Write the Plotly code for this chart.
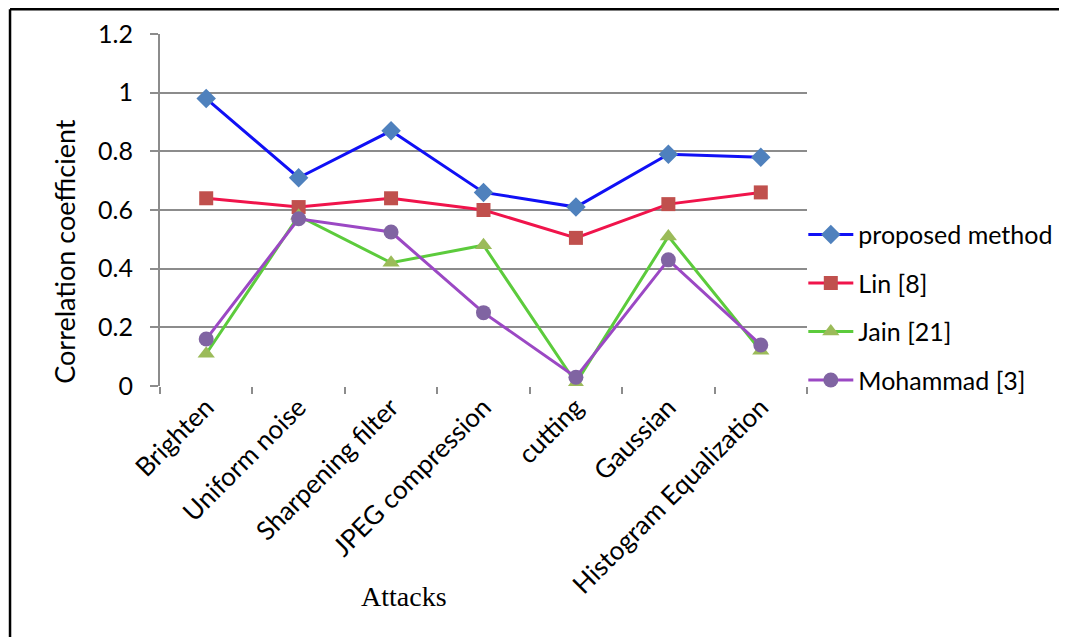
import plotly.graph_objects as go

attacks = ["Brighten", "Uniform noise", "Sharpening filter", "JPEG compression",
           "cutting", "Gaussian", "Histogram Equalization"]

proposed = [0.98, 0.71, 0.87, 0.66, 0.61, 0.79, 0.78]
lin = [0.64, 0.61, 0.64, 0.60, 0.505, 0.62, 0.66]
jain = [0.11, 0.58, 0.42, 0.48, 0.01, 0.51, 0.12]
mohammad = [0.16, 0.57, 0.525, 0.25, 0.03, 0.43, 0.14]

y_ticks = [0, 0.2, 0.4, 0.6, 0.8, 1, 1.2]
y_labels = ["0", "0.2", "0.4", "0.6", "0.8", "1", "1.2"]

series = [
    ("proposed method", proposed, "#1010F5", "#4F81BD", "diamond", 15),
    ("Lin [8]", lin, "#F0144B", "#C0504D", "square", 14),
    ("Jain [21]", jain, "#5CCB3C", "#9BBB59", "triangle-up", 15),
    ("Mohammad [3]", mohammad, "#9B48C4", "#8064A2", "circle", 15),
]

fig = go.Figure()
for i, (name, vals, lcol, mcol, sym, sz) in enumerate(series):
    fig.add_trace(
        go.Scatter(
            x=attacks,
            y=vals,
            name=name,
            mode="lines+markers",
            line=dict(color=lcol, width=3),
            marker=dict(symbol=sym, size=sz, color=mcol, line=dict(width=0)),
            legendgroup="g%d" % i,
        )
    )

font_main = "Lato, sans-serif"

# page body has an 8px margin, so the figure is a bit smaller than the window
fig.update_layout(
    width=1059,
    height=629,
    margin=dict(l=152, r=260, t=26, b=251, autoexpand=False),
    paper_bgcolor="white",
    plot_bgcolor="white",
    font=dict(family=font_main, size=24, color="black"),
    showlegend=True,
    legend=dict(
        xref="container", yref="container",
        x=0.751, y=0.676, xanchor="left", yanchor="top",
        font=dict(size=25, color="black"),
        tracegroupgap=13,
        itemwidth=45,
        bgcolor="rgba(0,0,0,0)",
    ),
    xaxis=dict(
        type="category",
        range=[-0.5, 6.5],
        tickangle=-45,
        tickson="boundaries",
        ticks="outside",
        ticklen=7,
        tickcolor="#8c8c8c",
        tickwidth=2,
        showgrid=False,
        showline=False,
        automargin=False,
        tickfont=dict(size=26),
    ),
    yaxis=dict(
        range=[0, 1.2],
        tickvals=y_ticks,
        ticktext=y_labels,
        ticks="outside",
        ticklen=8,
        tickcolor="#8c8c8c",
        tickwidth=2,
        ticklabelstandoff=12,
        showgrid=True,
        gridcolor="#8c8c8c",
        gridwidth=2,
        showline=True,
        linecolor="#8c8c8c",
        linewidth=2,
        zeroline=False,
        automargin=False,
        tickfont=dict(size=25),
    ),
)

fig.add_annotation(
    xref="paper", yref="paper", x=-0.147, y=0.384,
    text="Correlation coefficient", textangle=-90, showarrow=False,
    font=dict(size=27, family=font_main), xanchor="center", yanchor="middle",
)
fig.add_annotation(
    xref="paper", yref="paper", x=0.377, y=-0.599,
    text="Attacks", showarrow=False,
    font=dict(size=28, family="Liberation Serif, Times New Roman, serif"),
    xanchor="center", yanchor="middle",
)

# outer frame (only left and top edges are visible in the source)
fig.add_shape(type="line", xref="paper", yref="paper",
              x0=-0.2318, x1=1.42, y0=1.0703, y1=1.0703,
              line=dict(color="black", width=2.5))
fig.add_shape(type="line", xref="paper", yref="paper",
              x0=-0.2318, x1=-0.2318, y0=1.0703, y1=-0.75,
              line=dict(color="black", width=2.5))

fig.write_html("out.html")
